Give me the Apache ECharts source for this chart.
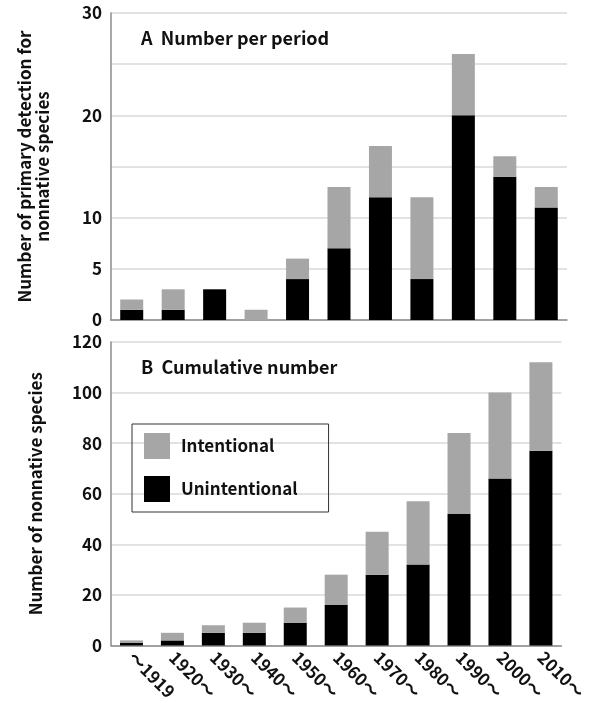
<!DOCTYPE html>
<html><head><meta charset="utf-8">
<script src="https://cdn.jsdelivr.net/npm/echarts@6/dist/echarts.min.js"></script>
<style>html,body{margin:0;padding:0;background:#fff}#c{width:589px;height:703px}</style>
</head><body><div id="c"></div>
<script>
const categories = ['～1919','1920～','1930～','1940～','1950～','1960～','1970～','1980～','1990～','2000～','2010～'];
const perUnintentional = [1,1,3,0,4,7,12,4,20,14,11];
const perIntentional   = [1,2,0,1,2,6,5,8,6,2,2];
const cumUnintentional = [1,2,5,5,9,16,28,32,52,66,77];
const cumIntentional   = [1,3,3,4,6,12,17,25,32,34,35];
const topTicksShown = [0,5,10,20,30];

const FONT = '"Noto Sans CJK JP", "Noto Sans", sans-serif';
const GRAY = '#a6a6a6', BLACK = '#000000';
const chart = echarts.init(document.getElementById('c'), null, {renderer:'canvas'});
const axisLineStyle = {show:true, lineStyle:{color:'#8c8c8c', width:1.5}};
const splitLine = {show:true, lineStyle:{color:'#d9d9d9', width:1.5}};
chart.setOption({
  animation:false,
  backgroundColor:'#fff',
  textStyle:{fontFamily:FONT},
  title:[
    {text:'A  Number per period', left:136, top:24, textStyle:{fontFamily:FONT, fontSize:18, fontWeight:'bold', color:'#111'}},
    {text:'B  Cumulative number', left:136, top:353, textStyle:{fontFamily:FONT, fontSize:18, fontWeight:'bold', color:'#111'}}
  ],
  legend:{
    data:['Intentional','Unintentional'],
    orient:'vertical', left:132, top:424,
    itemWidth:26, itemHeight:26, itemGap:17,
    borderColor:'#333', borderWidth:1, padding:[9,31,10,12],
    icon:'rect',
    textStyle:{fontFamily:FONT, fontSize:17, fontWeight:'bold', color:'#111', padding:[0,0,0,6]}
  },
  grid:[
    {left:111, right:22, top:13, height:307},
    {left:111, right:18, top:342, height:306}
  ],
  xAxis:[
    {type:'category', gridIndex:0, data:categories, axisTick:{show:false}, axisLabel:{show:false}, axisLine:axisLineStyle},
    {type:'category', gridIndex:1, data:categories, axisTick:{show:false}, axisLine:axisLineStyle,
     axisLabel:{rotate:-45, interval:0, margin:9, fontFamily:FONT, fontSize:17, fontWeight:'bold', color:'#111'}}
  ],
  yAxis:[
    {type:'value', gridIndex:0, min:0, max:30, interval:5, axisLine:axisLineStyle, axisTick:{show:false}, splitLine:splitLine,
     axisLabel:{fontFamily:FONT, fontSize:17, fontWeight:'bold', color:'#111', margin:9,
       formatter:v=>topTicksShown.includes(v)?String(v):''},
     name:'Number of primary detection for\nnonnative species', nameLocation:'middle', nameGap:59, nameRotate:90,
     nameTextStyle:{fontFamily:FONT, fontSize:17, fontWeight:'bold', color:'#111', lineHeight:18}},
    {type:'value', gridIndex:1, min:0, max:120, interval:20, axisLine:axisLineStyle, axisTick:{show:false}, splitLine:splitLine,
     axisLabel:{fontFamily:FONT, fontSize:17, fontWeight:'bold', color:'#111', margin:9},
     name:'Number of nonnative species', nameLocation:'middle', nameGap:67, nameRotate:90,
     nameTextStyle:{fontFamily:FONT, fontSize:17, fontWeight:'bold', color:'#111'}}
  ],
  series:[
    {name:'Unintentional', type:'bar', xAxisIndex:0, yAxisIndex:0, stack:'a', data:perUnintentional, barWidth:23, itemStyle:{color:BLACK}},
    {name:'Intentional', type:'bar', xAxisIndex:0, yAxisIndex:0, stack:'a', data:perIntentional, barWidth:23, itemStyle:{color:GRAY}},
    {name:'Unintentional', type:'bar', xAxisIndex:1, yAxisIndex:1, stack:'b', data:cumUnintentional, barWidth:23, itemStyle:{color:BLACK}},
    {name:'Intentional', type:'bar', xAxisIndex:1, yAxisIndex:1, stack:'b', data:cumIntentional, barWidth:23, itemStyle:{color:GRAY}}
  ]
});
</script></body></html>
